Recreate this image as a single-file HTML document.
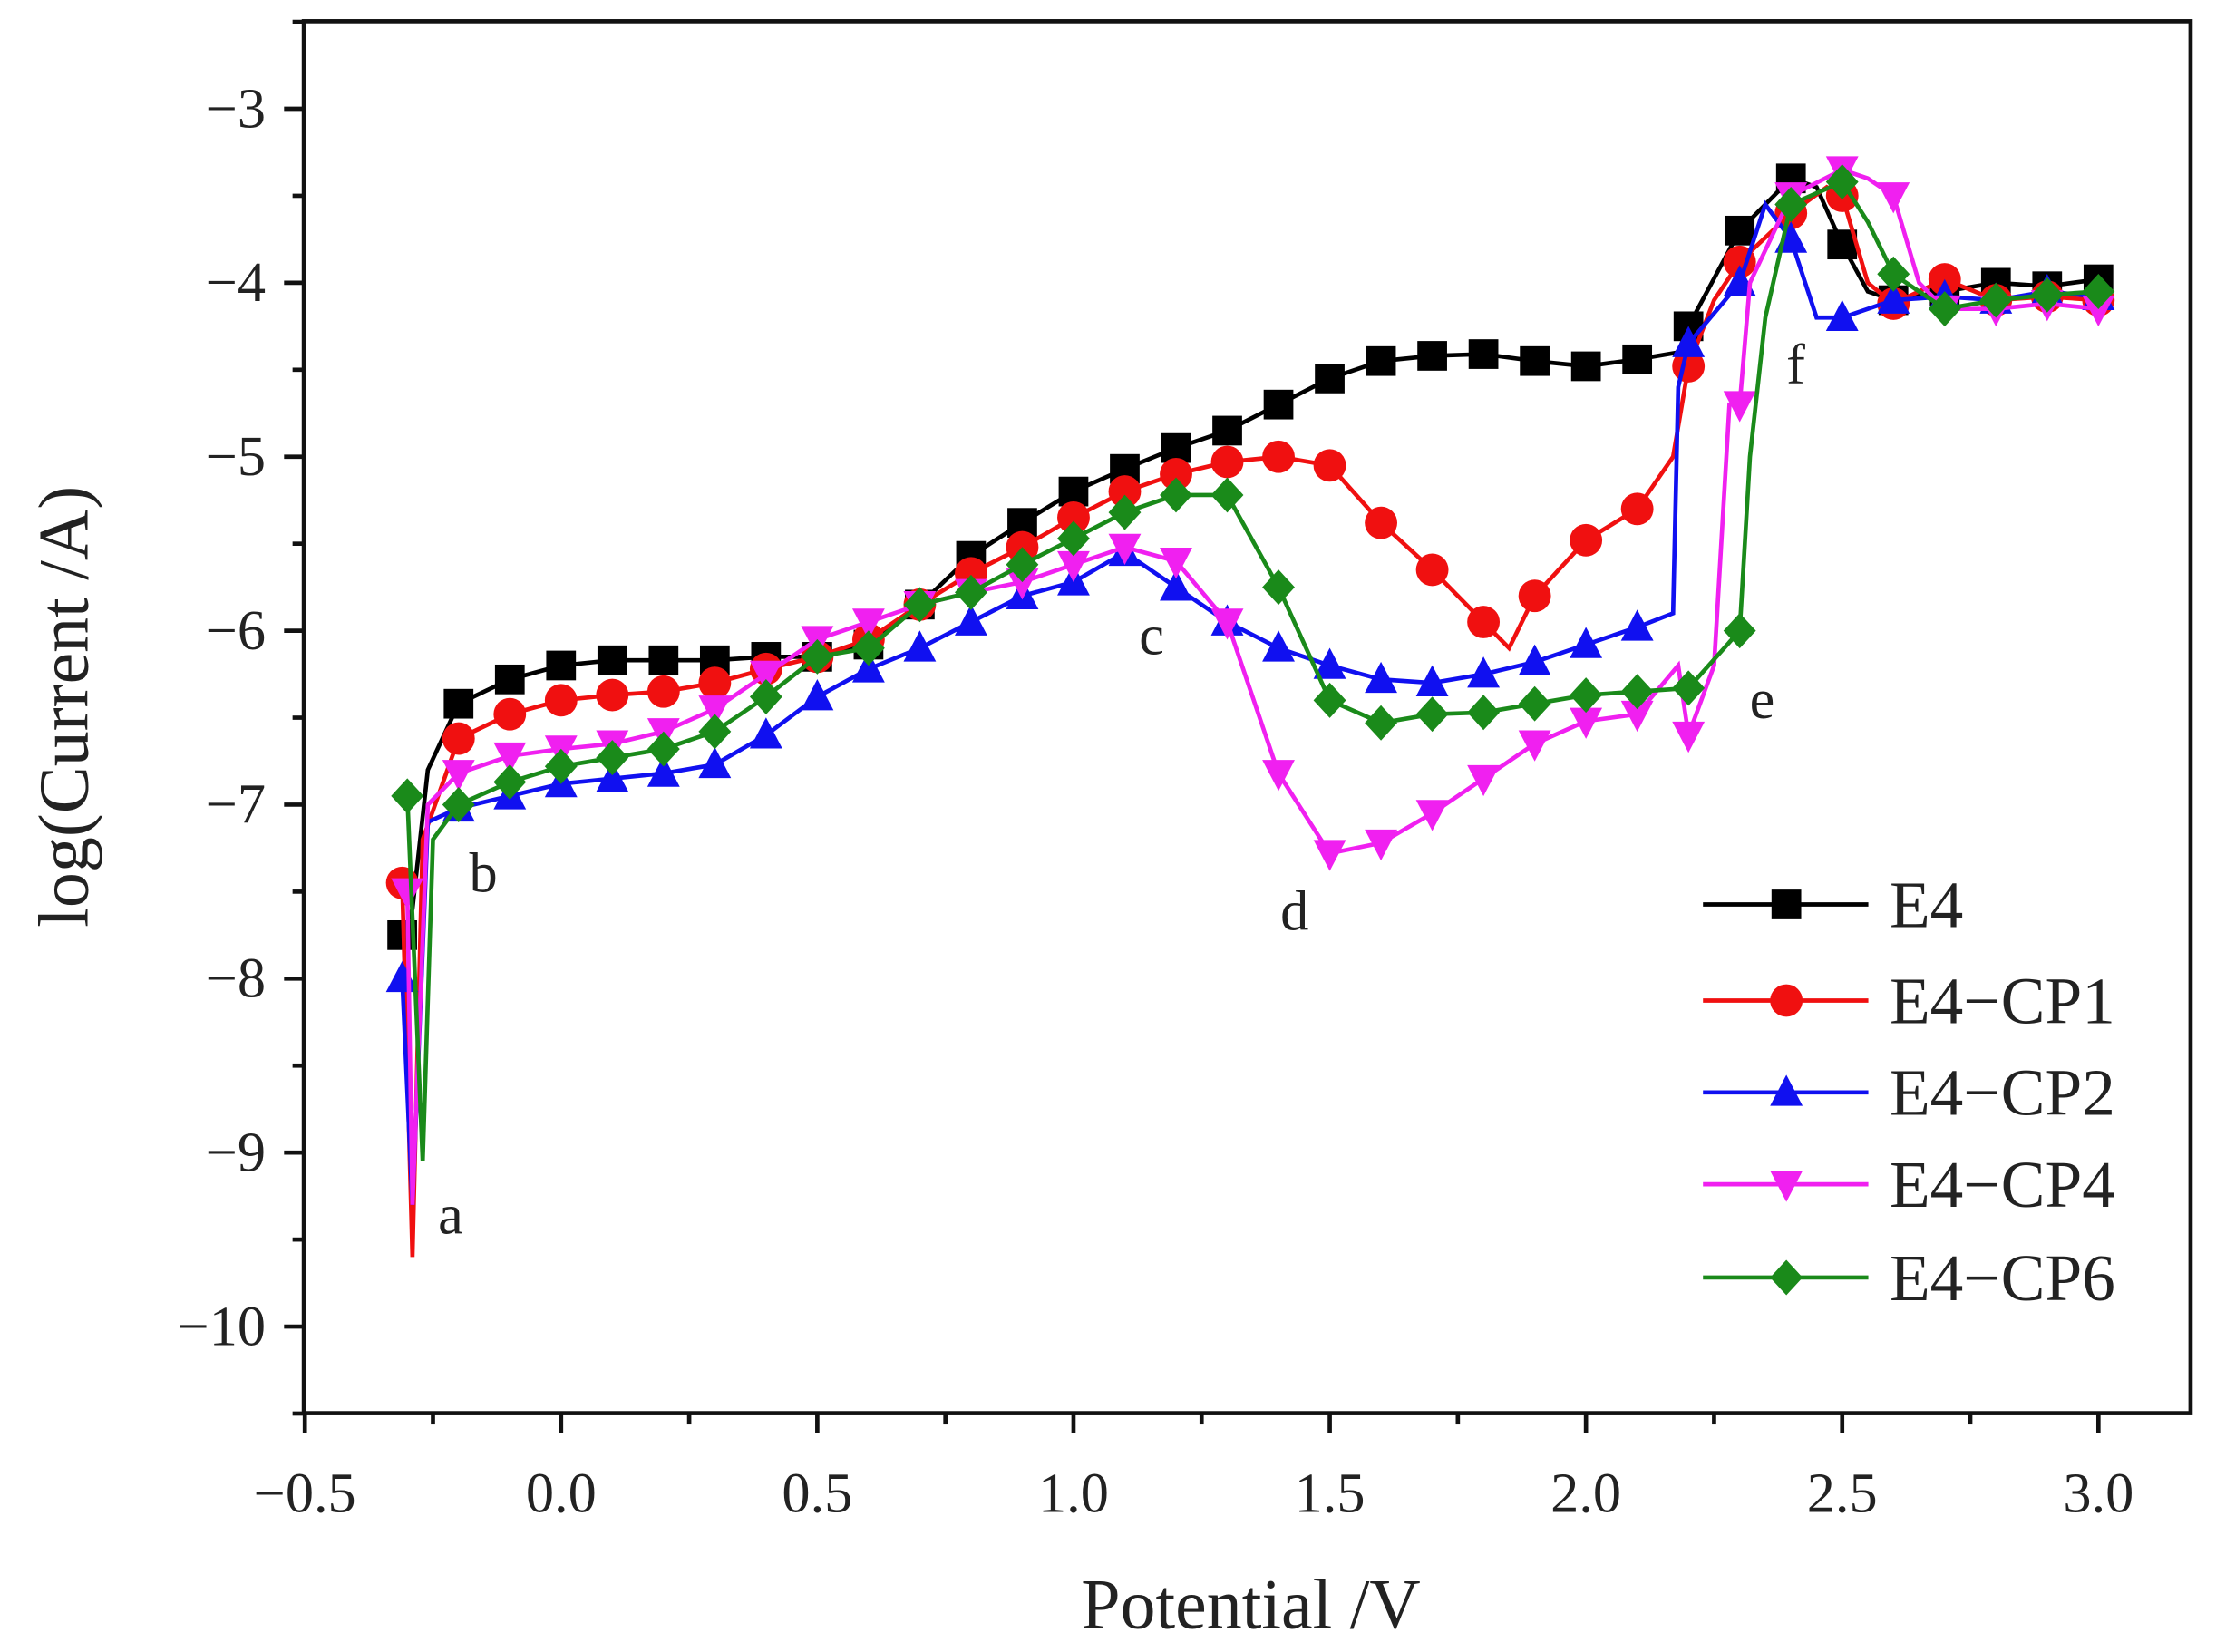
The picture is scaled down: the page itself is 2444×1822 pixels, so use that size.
<!DOCTYPE html>
<html><head><meta charset="utf-8"><style>
html,body{margin:0;padding:0;background:#fff;}
svg{display:block;}
text{font-family:"Liberation Serif",serif;fill:#222;}
</style></head><body>
<svg id="s" width="2444" height="1822" viewBox="0 0 1568 1169" preserveAspectRatio="none" xmlns="http://www.w3.org/2000/svg">
<rect x="215" y="15" width="1335" height="985" fill="none" stroke="#111" stroke-width="3"/>
<g id="ax"></g>
<g id="plot"></g>
<g font-size="40">
<text x="310" y="873">a</text><text x="332" y="631">b</text><text x="806" y="463">c</text><text x="906" y="658">d</text><text x="1238" y="508">e</text><text x="1264" y="271">f</text>
</g>
<text x="885" y="1152" font-size="50" text-anchor="middle">Potential /V</text>
<text transform="translate(62,500) rotate(-90)" font-size="50" text-anchor="middle">log(Current /A)</text>
<g id="leg"></g>
</svg>
<script>
const NS="http://www.w3.org/2000/svg";
const X=v=>397+362.6*v, Y=l=>77+123.1*(-3-l);
function el(t,a,p){const e=document.createElementNS(NS,t);for(const k in a)e.setAttribute(k,a[k]);p.appendChild(e);return e;}
const ax=document.getElementById('ax');
for(let i=0;i<=14;i++){const v=-0.5+i*0.25,x=X(v),maj=i%2==0;el('line',{x1:x,x2:x,y1:1000,y2:maj?1014:1008,stroke:'#111','stroke-width':3},ax);
 if(maj){const t=el('text',{x:x,y:1070,'font-size':40,'text-anchor':'middle'},ax);t.textContent=v.toFixed(1).replace('-','\u2212');}}
for(let i=0;i<=16;i++){const l=-10.5+i*0.5,y=Y(l),maj=Math.abs(l%1)<1e-9;el('line',{x1:215,x2:maj?201:207,y1:y,y2:y,stroke:'#111','stroke-width':3},ax);
 if(maj&&l<=-3){const t=el('text',{x:188,y:y+13,'font-size':40,'text-anchor':'end'},ax);t.textContent=String(l).replace('-','\u2212');}}
const S=[
{c:'#000',m:'sq',d:[[-0.31,-7.75],[-0.29,-7.6],[-0.26,-6.8],[-0.2,-6.42],[-0.1,-6.28],[0,-6.2],[0.1,-6.17],[0.2,-6.17],[0.3,-6.17],[0.4,-6.15],[0.5,-6.15],[0.6,-6.08],[0.7,-5.85],[0.8,-5.57],[0.9,-5.38],[1.0,-5.2],[1.1,-5.07],[1.2,-4.95],[1.3,-4.85],[1.4,-4.7],[1.5,-4.55],[1.6,-4.45],[1.7,-4.42],[1.8,-4.41],[1.9,-4.45],[2.0,-4.48],[2.1,-4.44],[2.18,-4.4],[2.2,-4.25],[2.3,-3.7],[2.35,-3.55],[2.4,-3.4],[2.45,-3.45],[2.5,-3.78],[2.55,-4.05],[2.6,-4.1],[2.7,-4.05],[2.8,-4.0],[2.9,-4.02],[3.0,-3.98]]},
{c:'#f01010',m:'ci',d:[[-0.31,-7.45],[-0.29,-9.6],[-0.27,-7.2],[-0.2,-6.62],[-0.1,-6.48],[0,-6.4],[0.1,-6.37],[0.2,-6.35],[0.3,-6.3],[0.4,-6.22],[0.5,-6.15],[0.6,-6.05],[0.7,-5.85],[0.8,-5.67],[0.9,-5.52],[1.0,-5.35],[1.1,-5.2],[1.2,-5.1],[1.3,-5.03],[1.4,-5.0],[1.5,-5.05],[1.6,-5.38],[1.7,-5.65],[1.8,-5.95],[1.85,-6.1],[1.9,-5.8],[2.0,-5.48],[2.1,-5.3],[2.17,-5.0],[2.2,-4.48],[2.25,-4.1],[2.3,-3.88],[2.4,-3.6],[2.47,-3.45],[2.5,-3.5],[2.55,-4.0],[2.6,-4.12],[2.7,-3.98],[2.8,-4.1],[2.9,-4.08],[3.0,-4.1]]},
{c:'#1010f0',m:'tu',d:[[-0.31,-8.0],[-0.29,-9.3],[-0.26,-7.1],[-0.2,-7.02],[-0.1,-6.95],[0,-6.88],[0.1,-6.85],[0.2,-6.82],[0.3,-6.77],[0.4,-6.6],[0.5,-6.38],[0.6,-6.22],[0.7,-6.1],[0.8,-5.95],[0.9,-5.8],[1.0,-5.72],[1.1,-5.55],[1.2,-5.75],[1.3,-5.95],[1.4,-6.1],[1.5,-6.2],[1.6,-6.28],[1.7,-6.3],[1.8,-6.25],[1.9,-6.18],[2.0,-6.08],[2.1,-5.98],[2.17,-5.9],[2.18,-4.6],[2.2,-4.35],[2.3,-4.0],[2.35,-3.55],[2.4,-3.75],[2.45,-4.2],[2.5,-4.2],[2.6,-4.1],[2.7,-4.08],[2.8,-4.1],[2.9,-4.05],[3.0,-4.08]]},
{c:'#f020f0',m:'td',d:[[-0.3,-7.5],[-0.29,-9.3],[-0.26,-7.0],[-0.2,-6.82],[-0.1,-6.72],[0,-6.68],[0.1,-6.65],[0.2,-6.58],[0.3,-6.45],[0.4,-6.25],[0.5,-6.05],[0.6,-5.95],[0.7,-5.85],[0.8,-5.78],[0.9,-5.72],[1.0,-5.62],[1.1,-5.52],[1.2,-5.6],[1.3,-5.95],[1.4,-6.82],[1.5,-7.28],[1.6,-7.22],[1.7,-7.05],[1.8,-6.85],[1.9,-6.65],[2.0,-6.52],[2.1,-6.48],[2.18,-6.2],[2.2,-6.6],[2.25,-6.2],[2.28,-4.7],[2.3,-4.7],[2.32,-4.0],[2.4,-3.5],[2.5,-3.35],[2.55,-3.4],[2.6,-3.5],[2.65,-4.0],[2.7,-4.15],[2.8,-4.15],[2.9,-4.12],[3.0,-4.15]]},
{c:'#1a8a1a',m:'di',d:[[-0.3,-6.95],[-0.27,-9.05],[-0.25,-7.2],[-0.2,-7.0],[-0.1,-6.87],[0,-6.78],[0.1,-6.73],[0.2,-6.68],[0.3,-6.58],[0.4,-6.38],[0.5,-6.15],[0.6,-6.1],[0.7,-5.85],[0.8,-5.78],[0.9,-5.62],[1.0,-5.47],[1.1,-5.32],[1.2,-5.22],[1.3,-5.22],[1.4,-5.75],[1.5,-6.4],[1.6,-6.53],[1.7,-6.48],[1.8,-6.47],[1.9,-6.42],[2.0,-6.37],[2.1,-6.35],[2.2,-6.33],[2.3,-6.0],[2.32,-5.0],[2.35,-4.2],[2.4,-3.55],[2.5,-3.42],[2.55,-3.65],[2.6,-3.95],[2.7,-4.15],[2.8,-4.1],[2.9,-4.07],[3.0,-4.05]]}
];
function mk(m,x,y,c,p){const r=10.5;
 if(m=='sq')el('rect',{x:x-r,y:y-r,width:2*r,height:2*r,fill:c},p);
 else if(m=='ci')el('circle',{cx:x,cy:y,r:r+1,fill:c},p);
 else if(m=='tu')el('polygon',{points:`${x},${y-r-2} ${x-r-1},${y+r-1} ${x+r+1},${y+r-1}`,fill:c},p);
 else if(m=='td')el('polygon',{points:`${x},${y+r+2} ${x-r-1},${y-r+1} ${x+r+1},${y-r+1}`,fill:c},p);
 else el('polygon',{points:`${x},${y-r-2} ${x+r+1},${y} ${x},${y+r+2} ${x-r-1},${y}`,fill:c},p);}
const plot=document.getElementById('plot'),leg=document.getElementById('leg');
const names=['E4','E4\u2212CP1','E4\u2212CP2','E4\u2212CP4','E4\u2212CP6'],ly=[640,708,773,838,904];
S.forEach((s,i)=>{
 el('polyline',{points:s.d.map(p=>X(p[0])+','+Y(p[1])).join(' '),fill:'none',stroke:s.c,'stroke-width':3},plot);
 s.d.forEach((p,j)=>{const t=Math.round(p[0]*10);if(j==0||(Math.abs(p[0]*10-t)<1e-6&&p[0]>=-0.2))mk(s.m,X(p[0]),Y(p[1]),s.c,plot);});
 el('line',{x1:1205,x2:1322,y1:ly[i],y2:ly[i],stroke:s.c,'stroke-width':3},leg);mk(s.m,1264,ly[i],s.c,leg);
 const t=el('text',{x:1337,y:ly[i]+16,'font-size':47},leg);t.textContent=names[i];
});
</script>
</body></html>
